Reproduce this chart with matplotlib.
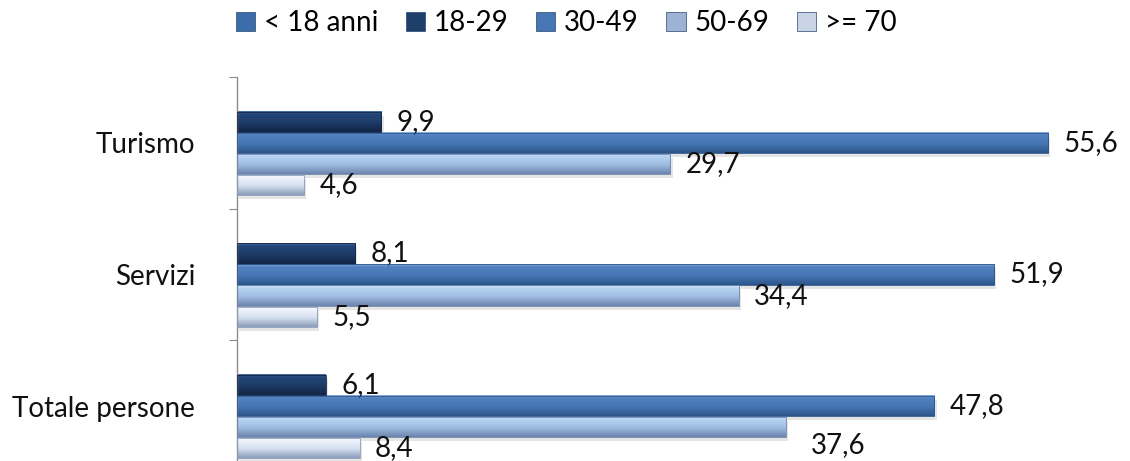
import matplotlib
matplotlib.use("Agg")
import matplotlib.pyplot as plt
from matplotlib.patches import Patch, Rectangle
from matplotlib.colors import to_rgb
import numpy as np

plt.rcParams['font.family'] = ['Lato', 'DejaVu Sans']

# --- data ---
categories = ["Turismo", "Servizi", "Totale persone"]
series_names = ["< 18 anni", "18-29", "30-49", "50-69", ">= 70"]
under_18 = [0.0, 0.0, 0.0]
age_18_29 = [9.9, 8.1, 6.1]
age_30_49 = [55.6, 51.9, 47.8]
age_50_69 = [29.7, 34.4, 37.6]
age_70_plus = [4.6, 5.5, 8.4]
series_values = [under_18, age_18_29, age_30_49, age_50_69, age_70_plus]

# gradient stops (top edge, upper, middle, bottom) per series
gradients = [
    ["#7ea6d8", "#4c7cba", "#3f6eab", "#26497a"],
    ["#4a72a6", "#24477a", "#1d3b66", "#122646"],
    ["#86aee0", "#5181c0", "#4676b4", "#2c558a"],
    ["#dcf0ff", "#b8d4f2", "#9fbce2", "#6d85ad"],
    ["#ffffff", "#f2f6fc", "#d5e0f0", "#8b9dbb"],
]
legend_colors = ["#3d6cab", "#1f3f6b", "#4676b4", "#9db3d6", "#c9d4e6"]


def make_gradient(stops, n=40):
    rgb = np.array([to_rgb(c) for c in stops])
    pos = np.array([0.0, 0.12, 0.55, 1.0])
    t = np.linspace(0, 1, n)
    grad = np.stack([np.interp(t, pos, rgb[:, k]) for k in range(3)], axis=1)
    return grad[:, None, :]


W, H = 1130, 461
fig = plt.figure(figsize=(W / 100, H / 100), dpi=100)
x_left, x_right = 237, 1130
y_top, y_bottom = 77, 472
ax = fig.add_axes([x_left / W, 1 - y_bottom / H, (x_right - x_left) / W, (y_bottom - y_top) / H])

px_per_unit = 14.59
xmax = (x_right - x_left) / px_per_unit

n_series = len(series_names)
group = 0.8
bar_h = group / n_series
y_pos = np.arange(len(categories))

for i, (vals, stops) in enumerate(zip(series_values, gradients)):
    grad = make_gradient(stops)
    offset = -group / 2 + bar_h * (i + 0.5)
    for j, v in enumerate(vals):
        if v <= 0:
            continue
        yc = y_pos[j] + offset
        h = bar_h * 0.96
        # soft shadow under the bar
        ax.add_patch(Rectangle((0.15, yc - h / 2 + 0.03), v, h, facecolor="#000000",
                               alpha=0.10, edgecolor="none", zorder=1))
        ax.imshow(grad, extent=(0, v, yc + h / 2, yc - h / 2), aspect="auto",
                  origin="upper", interpolation="bilinear", zorder=2)
        ax.add_patch(Rectangle((0, yc - h / 2), v, h, facecolor="none",
                               edgecolor=stops[3], lw=0.6, zorder=3))
        # the 37,6 label sits lower and further right in the original
        moved = (i == 3 and j == 2)
        dy = 13 if moved else 0
        dx = 18 if moved else 11
        ax.annotate(f"{v:.1f}".replace(".", ","), (v, yc), xytext=(dx, -dy),
                    textcoords="offset points", ha="left", va="center",
                    fontsize=20, color="#111111", annotation_clip=False)

ax.set_xlim(0, xmax)
ax.set_ylim(len(categories) - 0.5, -0.5)

for s in ["top", "right", "bottom"]:
    ax.spines[s].set_visible(False)
ax.spines["left"].set_color("#8c8c8c")
ax.spines["left"].set_linewidth(1.0)
ax.set_xticks([])

ax.set_yticks(np.arange(len(categories) + 1) - 0.5)
ax.set_yticklabels([])
ax.tick_params(axis="y", which="major", length=6, color="#8c8c8c", direction="out")
ax.set_yticks(y_pos, minor=True)
ax.set_yticklabels(categories, minor=True, fontsize=20, color="#111111")
ax.tick_params(axis="y", which="minor", length=0, pad=30)

handles = [Patch(facecolor=c, edgecolor="#2a466e", lw=0.5) for c in legend_colors]
fig.legend(handles, series_names, loc="center", bbox_to_anchor=(566 / W, 1 - 23 / H),
           ncol=5, frameon=False, fontsize=20, handlelength=0.7, handleheight=0.7,
           handletextpad=0.3, columnspacing=1.0)

fig.savefig("out.png", dpi=100)
